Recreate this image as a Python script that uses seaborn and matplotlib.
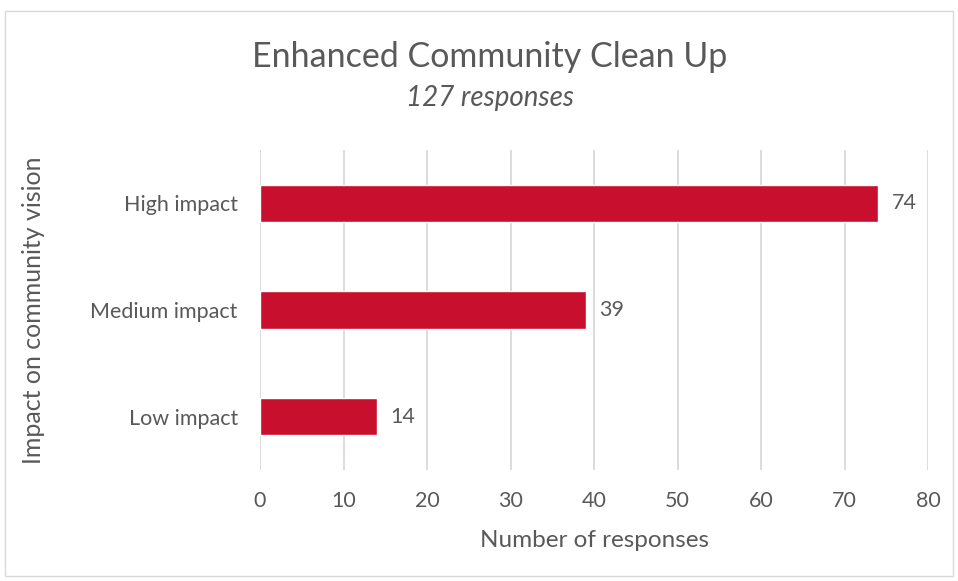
import matplotlib
matplotlib.use("Agg")
import matplotlib.pyplot as plt
from matplotlib.patches import Rectangle
import seaborn as sns
import pandas as pd

# chart data
categories = ["High impact", "Medium impact", "Low impact"]
responses = [74, 39, 14]
x_ticks = [0, 10, 20, 30, 40, 50, 60, 70, 80]

TEXT = "#595959"
GRID = "#D9D9D9"
BAR = "#C8102E"

sns.set_theme(style="white")
plt.rcParams["font.family"] = ["Lato", "DejaVu Sans"]

df = pd.DataFrame({"category": categories, "responses": responses})

fig = plt.figure(figsize=(9.58, 5.81), dpi=100)
ax = fig.add_axes([0.2714, 0.191, 0.6973, 0.551])

sns.barplot(data=df, x="responses", y="category", order=categories,
            color=BAR, saturation=1, width=0.35, ax=ax, zorder=3)

ax.set_xlim(0, 80)
ax.set_ylim(2.5, -0.5)
ax.set_xticks(x_ticks)
ax.xaxis.grid(True, color=GRID, linewidth=1.3, zorder=0)
for s in ax.spines.values():
    s.set_visible(False)
ax.tick_params(axis="both", length=0, labelsize=15.5, labelcolor=TEXT)
ax.tick_params(axis="x", pad=15)
ax.tick_params(axis="y", pad=16)

for i, v in enumerate(responses):
    ax.annotate(str(v), (v, i), xytext=(10, 0), textcoords="offset points",
                va="center", ha="left", fontsize=15.5, color=TEXT)

ax.set_xlabel("Number of responses", fontsize=17.5, color=TEXT, labelpad=14)
ax.set_ylabel("")
fig.text(0.035, 0.466, "Impact on community vision", rotation=90,
         ha="center", va="center", fontsize=18, color=TEXT)

fig.text(0.511, 0.902, "Enhanced Community Clean Up", ha="center", va="center",
         fontsize=24.5, color=TEXT)
fig.text(0.511, 0.831, "127 responses", ha="center", va="center",
         fontsize=20, style="italic", color=TEXT)

# light frame around the chart area
fig.patches.append(Rectangle((0.005, 0.008), 0.99, 0.973, transform=fig.transFigure,
                             fill=False, edgecolor="#D9D9D9", linewidth=1))

fig.savefig("out.png", dpi=100)
